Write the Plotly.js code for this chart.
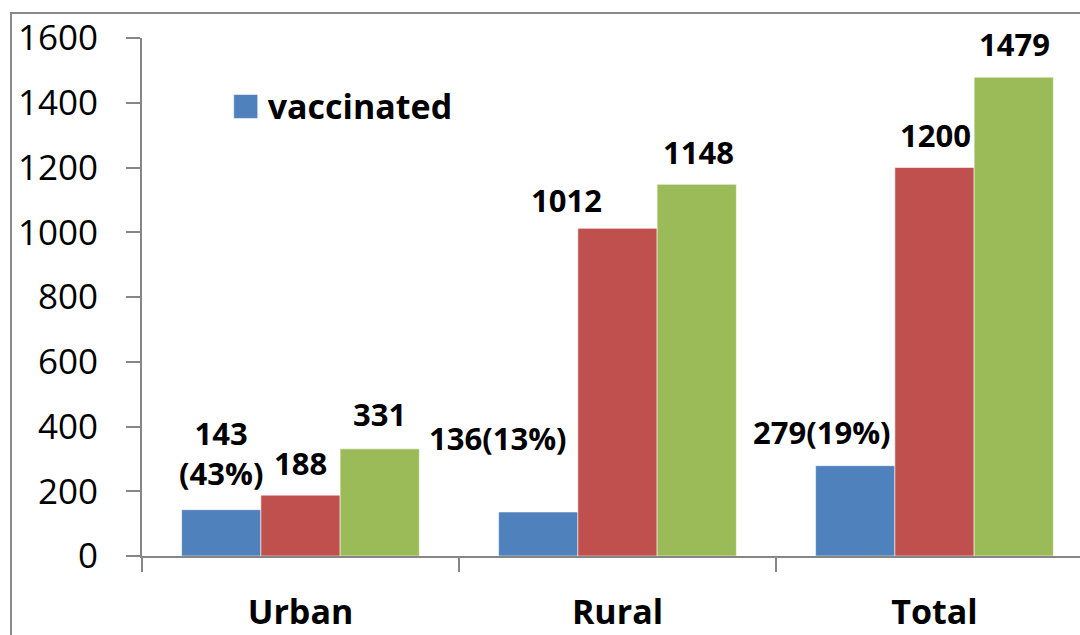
<!DOCTYPE html>
<html>
<head>
<meta charset="utf-8">
<script src="https://cdn.plot.ly/plotly-3.0.1.min.js"></script>
<style>
  html, body { margin: 0; padding: 0; background: #ffffff; overflow: hidden; }
  #frame { position: absolute; left: 10px; top: 12px; width: 2000px; height: 2000px;
           border-left: 2px solid #8a8a8a; border-top: 2px solid #8a8a8a; pointer-events: none; }
  #chart { position: absolute; left: 0; top: 0; width: 1080px; height: 635px; }
</style>
</head>
<body>
<div id="frame"></div>
<div id="chart"></div>
<script>
// ---- data ----
const categories = ['Urban', 'Rural', 'Total'];
const vaccinated = [143, 136, 279];
const unvaccinated = [188, 1012, 1200];
const totals = [331, 1148, 1479];
const vaccinatedLabels = ['143<br>(43%)', '136(13%)', '279(19%)'];
const unvaccinatedLabels = ['188', '1012', '1200'];
const totalLabels = ['331', '1148', '1479'];
const yTicks = [0, 200, 400, 600, 800, 1000, 1200, 1400, 1600];

// ---- styles ----
const colors = ['#4F81BD', '#C0504D', '#9BBB59'];
const FONT = '"Open Sans", "Liberation Sans", Arial, sans-serif';
// label offsets in pixels (x shift, y shift of label centre above bar top)
const labelShift = [
  [[0, 57], [-40, 74], [-33, 34]],
  [[0, 32], [-51, 28], [1, 33]],
  [[0, 35], [2, 32], [1, 33]]
];

const series = [
  {name: 'vaccinated', y: vaccinated, labels: vaccinatedLabels, legend: true},
  {name: 'unvaccinated', y: unvaccinated, labels: unvaccinatedLabels, legend: false},
  {name: 'total', y: totals, labels: totalLabels, legend: false}
];

const traces = series.map((s, i) => ({
  type: 'bar',
  name: s.name,
  x: categories,
  y: s.y,
  showlegend: s.legend,
  marker: {color: colors[i], line: {color: 'rgba(255,255,255,0.55)', width: 1}},
  hoverinfo: 'x+y+name'
}));

const offsets = [-0.25, 0, 0.25];
const annotations = [];
series.forEach((s, i) => {
  s.y.forEach((v, j) => {
    annotations.push({
      x: j + offsets[i], y: v, xref: 'x', yref: 'y',
      text: s.labels[j], showarrow: false,
      xanchor: 'center', yanchor: 'middle',
      xshift: labelShift[i][j][0], yshift: labelShift[i][j][1],
      font: {family: FONT, size: 31, color: '#000000', weight: 'bold'}
    });
  });
});

const layout = {
  width: 1080, height: 635,
  margin: {l: 142, r: 0, t: 38, b: 79, pad: 0},
  paper_bgcolor: 'rgba(0,0,0,0)', plot_bgcolor: 'rgba(0,0,0,0)',
  barmode: 'group', bargap: 0.25, bargroupgap: 0,
  showlegend: true,
  legend: {
    x: 0.085, xanchor: 'left', y: 0.869, yanchor: 'middle',
    bgcolor: 'rgba(0,0,0,0)', borderwidth: 0, itemwidth: 36,
    font: {family: FONT, size: 34, color: '#000000', weight: 'bold'}
  },
  xaxis: {
    type: 'category', range: [-0.5, 2.459], fixedrange: true,
    showline: true, linecolor: '#868686', linewidth: 2,
    ticks: 'outside', tickson: 'boundaries', ticklen: 14, tickwidth: 2, tickcolor: '#868686',
    showgrid: false, zeroline: false,
    ticklabelstandoff: 25,
    tickfont: {family: FONT, size: 34, color: '#000000', weight: 'bold'}
  },
  yaxis: {
    range: [0, 1600], tickvals: yTicks, fixedrange: true,
    showline: true, linecolor: '#868686', linewidth: 2,
    ticks: 'outside', ticklen: 14, tickwidth: 2, tickcolor: '#868686',
    showgrid: false, zeroline: false,
    ticklabelstandoff: 21,
    tickfont: {family: FONT, size: 35, color: '#000000'}
  },
  annotations: annotations
};

Plotly.newPlot('chart', traces, layout, {displayModeBar: false}).then(gd => {
  // the reference uses a larger square legend key than Plotly's default bar swatch
  document.querySelectorAll('#chart .legend .legendpoints path').forEach(p => {
    p.setAttribute('d', 'M-11,-11H13V13H-11Z');
  });
});
</script>
</body>
</html>
